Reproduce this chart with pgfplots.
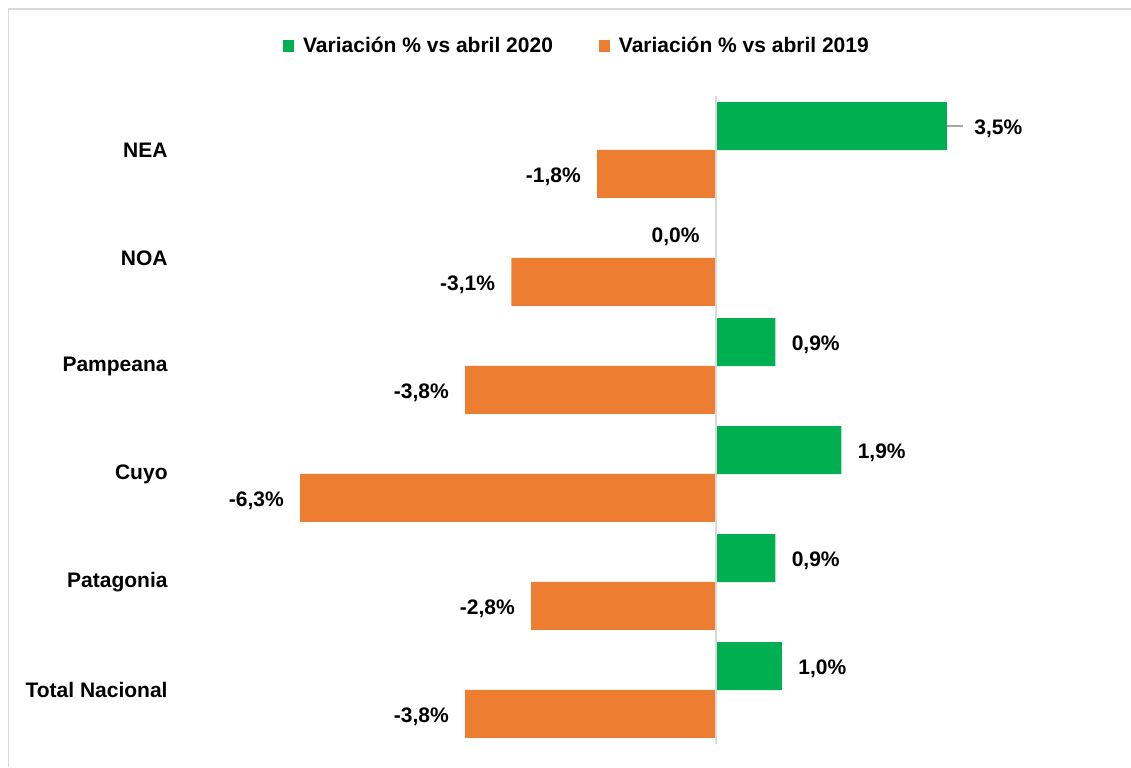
\documentclass[border=0pt]{standalone}
\usepackage{pgfplots}
\pgfplotsset{compat=1.18}
\usepackage{pgfplotstable}
\usepackage{fontspec}
\setmainfont{Liberation Sans}
\definecolor{cgreen}{HTML}{00B050}
\definecolor{corange}{HTML}{ED7D31}
\definecolor{cframe}{HTML}{D9D9D9}
\definecolor{cleader}{HTML}{A6A6A6}

% anc: 180 = west side, 0 = east side
\pgfplotstableread{
y x lab anc sh
-0.222 3.5 3,5 180 13.5
0.778 0.0 0,0 0 -8
1.778 0.9 0,9 180 8
2.778 1.9 1,9 180 8
3.778 0.9 0,9 180 8
4.778 1.0 1,0 180 8
}\greentab

\pgfplotstableread{
y x lab anc sh
0.222 -1.8 -1,8 0 -8
1.222 -3.1 -3,1 0 -8
2.222 -3.8 -3,8 0 -8
3.222 -6.3 -6,3 0 -8
4.222 -2.8 -2,8 0 -8
5.222 -3.8 -3,8 0 -8
}\orangetab

\begin{document}
\begin{tikzpicture}
\begin{axis}[
  x=33pt, y=54pt,
  y dir=reverse,
  xmin=-8.121, xmax=6.0,
  ymin=-0.5, ymax=5.5,
  clip=false,
  axis line style={draw=none},
  major tick length=0pt,
  xtick=\empty,
  ytick={0,1,2,3,4,5},
  yticklabels={NEA,NOA,Pampeana,Cuyo,Patagonia,Total Nacional},
  yticklabel style={font=\fontsize{10.5}{12}\selectfont\bfseries, anchor=east, inner sep=0pt, xshift=-6pt},
  xbar, bar width=24pt, bar shift=0pt,
  point meta=explicit symbolic,
  nodes near coords={\pgfplotspointmeta\%},
  visualization depends on={\thisrow{anc}\as\myanc},
  visualization depends on={\thisrow{sh}\as\mysh},
  every node near coord/.append style={font=\fontsize{10.5}{12}\selectfont\bfseries, text=black, inner sep=0pt, anchor=\myanc, xshift=\mysh pt, yshift=-1.5pt},
  legend columns=2,
  legend style={at={(0.427,1.0772)}, anchor=center, draw=none, fill=none,
    font=\fontsize{10.5}{12}\selectfont\bfseries,
    column sep=2.5pt,
    /tikz/every even column/.append style={column sep=21pt}},
  legend image code/.code={\fill[#1] (0pt,-3pt) rectangle (5.5pt,3pt);},
]
\addplot[fill=cgreen, draw=none] table[x=x, y=y, meta=lab] {\greentab};
\addlegendentry{Variación \% vs abril 2020}
\addplot[fill=corange, draw=none] table[x=x, y=y, meta=lab] {\orangetab};
\addlegendentry{Variación \% vs abril 2019}
\draw[cframe, line width=0.9pt] (axis cs:0,-0.5) -- (axis cs:0,5.5);
\draw[cleader, line width=0.7pt] (axis cs:3.5,-0.222) -- (axis cs:3.74,-0.222);
\draw[cframe, line width=0.9pt] (axis cs:-10.72,5.713) -- (axis cs:-10.72,-1.3056) -- (axis cs:6.288,-1.3056);
\coordinate (BL) at (axis cs:-10.848,5.713);
\coordinate (TR) at (axis cs:6.288,-1.3889);
\end{axis}
\pgfresetboundingbox
\path[use as bounding box] (BL) rectangle (TR);
\end{tikzpicture}
\end{document}
